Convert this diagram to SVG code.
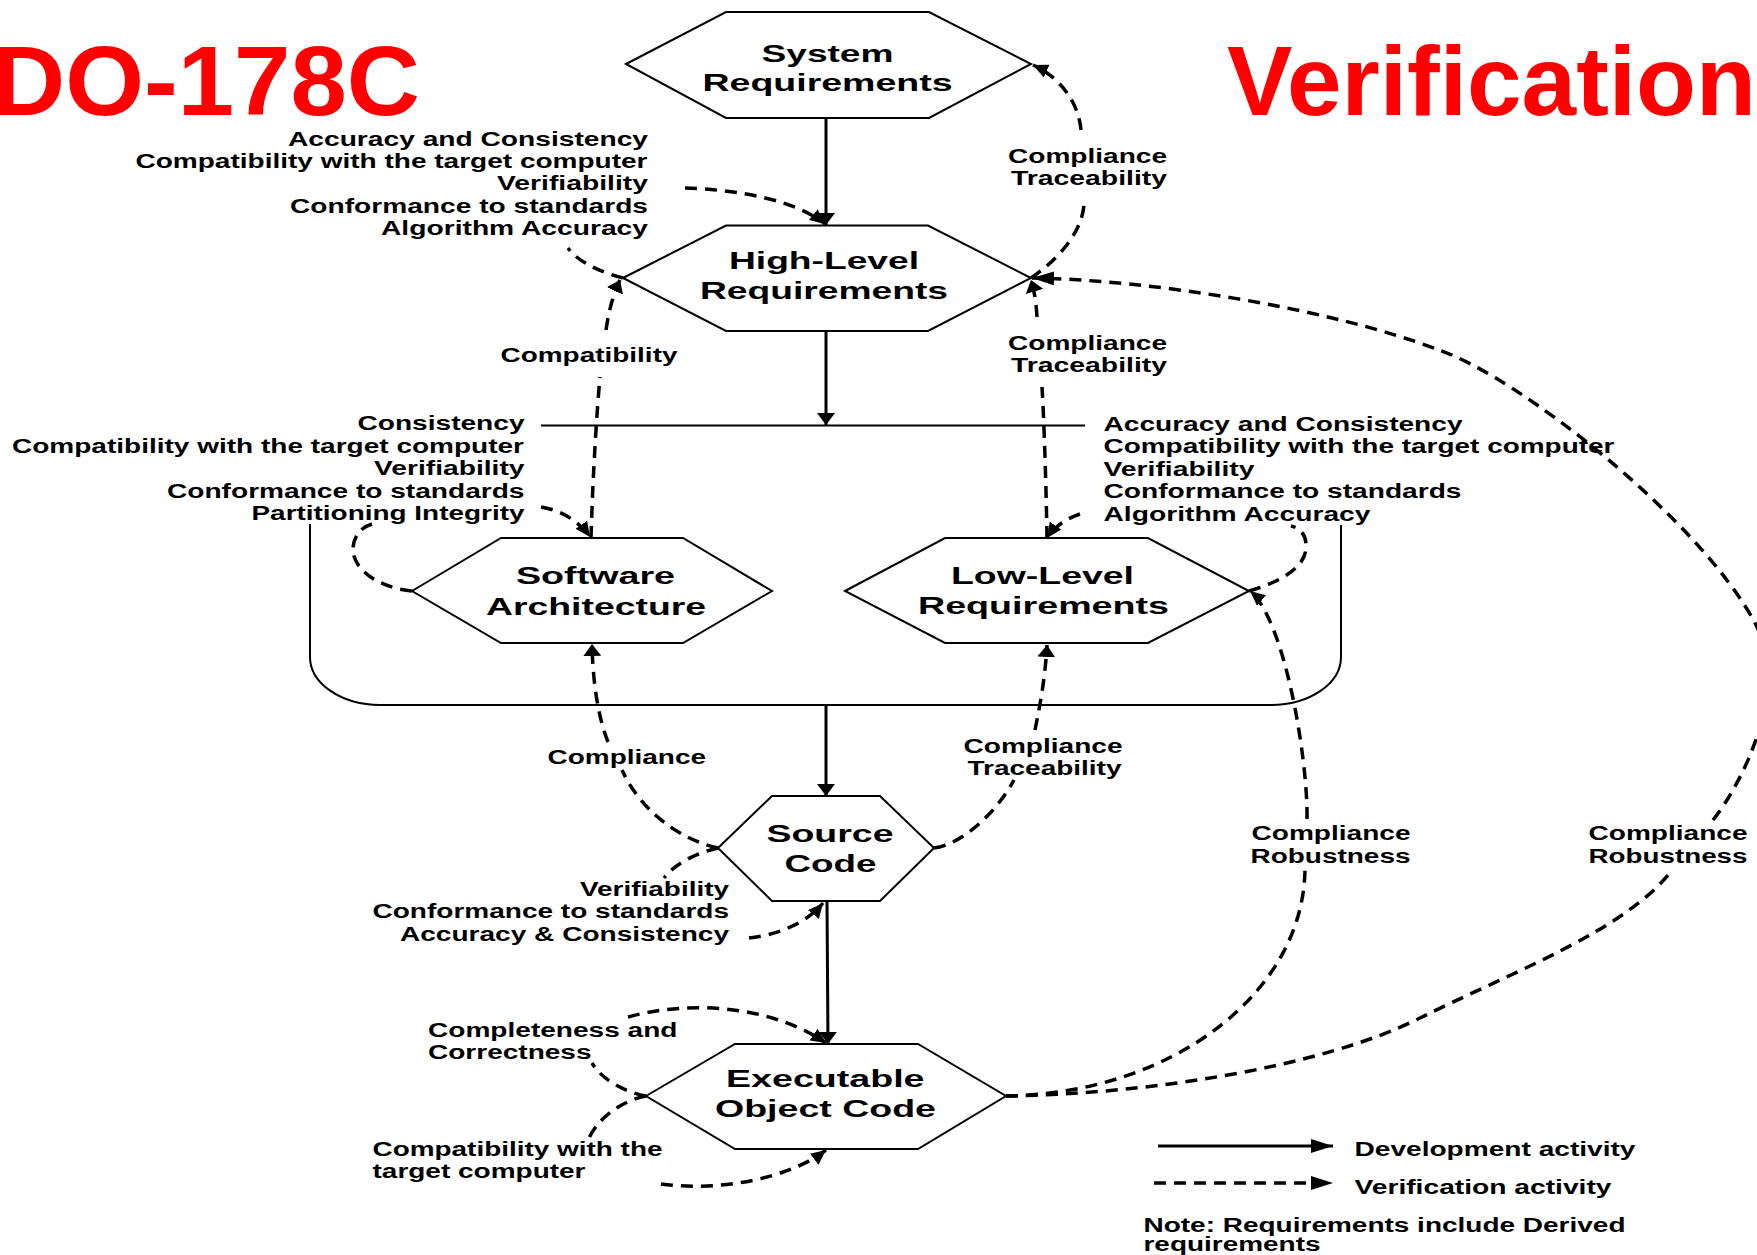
<svg xmlns="http://www.w3.org/2000/svg" width="1757" height="1255" viewBox="0 0 1757 1255">
<style>
text{font-family:"Liberation Sans",Arial,sans-serif;font-weight:bold;fill:#000}
.b{font-size:19.5px}
.n{font-size:23px}
.title{font-size:99px;fill:#ff0000}
.hex{fill:#fff;stroke:#000;stroke-width:2}
.dev{fill:none;stroke:#000;stroke-width:3}
.bar{fill:none;stroke:#000;stroke-width:2}
.ver{fill:none;stroke:#000;stroke-width:3.5;stroke-dasharray:12 8}
</style>
<defs>
<marker id="ahV" markerUnits="userSpaceOnUse" viewBox="0 0 12 18" markerWidth="12" markerHeight="18" refX="12" refY="9" orient="auto"><path d="M0,0 L12,9 L0,18 z" fill="#000"/></marker>
<marker id="ah" markerUnits="userSpaceOnUse" viewBox="0 0 15 14" markerWidth="15" markerHeight="14" refX="15" refY="7" orient="auto"><path d="M0,0 L15,7 L0,14 z" fill="#000"/></marker>
<marker id="ahH" markerUnits="userSpaceOnUse" viewBox="0 0 22 14" markerWidth="22" markerHeight="14" refX="22" refY="7" orient="auto"><path d="M0,0 L22,7 L0,14 z" fill="#000"/></marker>
</defs>
<rect width="1757" height="1255" fill="#fff"/>

<g id="title">
<text class="title" x="-8" y="115" textLength="428" lengthAdjust="spacingAndGlyphs">DO-178C</text>
<text class="title" x="1227" y="115" textLength="529" lengthAdjust="spacingAndGlyphs">Verification</text>
</g>

<g id="system-requirements">
<polygon class="hex" points="626,64 726,12 929,12 1031,64 929,118 726,118"/>
<text class="n" x="761.5" y="61.5" textLength="132" lengthAdjust="spacingAndGlyphs">System</text>
<text class="n" x="702.5" y="90.5" textLength="250" lengthAdjust="spacingAndGlyphs">Requirements</text>
</g>
<g id="high-level-requirements">
<polygon class="hex" points="623,278 726,225.5 928,225.5 1031,278 928,331 726,331"/>
<text class="n" x="729" y="268.8" textLength="190" lengthAdjust="spacingAndGlyphs">High-Level</text>
<text class="n" x="700" y="298.8" textLength="248" lengthAdjust="spacingAndGlyphs">Requirements</text>
</g>
<g id="software-architecture">
<polygon class="hex" points="412,591 501,538 683,538 772,591 683,643 501,643"/>
<text class="n" x="516" y="584.3" textLength="159" lengthAdjust="spacingAndGlyphs">Software</text>
<text class="n" x="486" y="614.5" textLength="220" lengthAdjust="spacingAndGlyphs">Architecture</text>
</g>
<g id="low-level-requirements">
<polygon class="hex" points="845,591 945,538 1148,538 1249,591 1148,643 945,643"/>
<text class="n" x="951" y="584.3" textLength="183" lengthAdjust="spacingAndGlyphs">Low-Level</text>
<text class="n" x="918" y="614.3" textLength="251" lengthAdjust="spacingAndGlyphs">Requirements</text>
</g>
<g id="source-code">
<polygon class="hex" points="718,848 772,796 880,796 934,848 880,901 772,901"/>
<text class="n" x="766.5" y="842.3" textLength="127" lengthAdjust="spacingAndGlyphs">Source</text>
<text class="n" x="784.5" y="871.7" textLength="92" lengthAdjust="spacingAndGlyphs">Code</text>
</g>
<g id="executable-object-code">
<polygon class="hex" points="646,1096 735,1044 918,1044 1006,1096 918,1149 735,1149"/>
<text class="n" x="726" y="1086.7" textLength="198.5" lengthAdjust="spacingAndGlyphs">Executable</text>
<text class="n" x="715" y="1116.7" textLength="221" lengthAdjust="spacingAndGlyphs">Object Code</text>
</g>

<g id="connectors">
<path class="dev" d="M826,118 L826,225" marker-end="url(#ahV)"/>
<path class="dev" d="M826,331 L826,425" marker-end="url(#ahV)"/>
<path class="bar" d="M541,425.5 H1085"/>
<path class="bar" d="M310,524 V657 A70,48 0 0 0 380,705 H1271 A70,48 0 0 0 1341,657 V525"/>
<path class="dev" d="M826,705 L826,796" marker-end="url(#ahV)"/>
<path class="dev" d="M827,901 L828,1044" marker-end="url(#ahV)"/>

<path class="ver" d="M1031,278 C1055,262 1084,232 1084,202 M1081,130 C1079,105 1062,78 1033,65" marker-end="url(#ah)"/>
<path class="ver" d="M1047,538 C1046,480 1044,420 1042,387 M1037,317 C1036,300 1034,290 1031,280" marker-end="url(#ahV)"/>
<path class="ver" d="M591,538 C593,470 597,410 600,377 M606,330 C609,310 613,295 620,280" marker-end="url(#ahV)"/>
<path class="ver" d="M623,278 C600,272 578,262 568,248 M685,188 C740,190 795,200 825,224" marker-end="url(#ah)"/>
<path class="ver" d="M412,591 C380,588 352,570 353,548 C354,535 362,527 372,524 M541,507 C560,510 578,520 590,537" marker-end="url(#ah)"/>
<path class="ver" d="M1249,591 C1280,582 1305,568 1306,548 C1307,535 1300,528 1291,526 M1080,514 C1068,518 1056,525 1047,538" marker-end="url(#ah)"/>
<path class="ver" d="M718,848 C680,840 640,810 622,770 M608,742 C600,722 593,690 592,644" marker-end="url(#ahV)"/>
<path class="ver" d="M718,848 C700,852 676,862 664,878 M749,938 C775,935 805,925 823,903" marker-end="url(#ah)"/>
<path class="ver" d="M934,848 C960,845 995,815 1014,780 M1035,730 C1040,705 1045,680 1047,645" marker-end="url(#ahV)"/>
<path class="ver" d="M646,1096 C625,1092 602,1080 592,1063 M628,1017 C690,1000 770,1005 826,1043" marker-end="url(#ah)"/>
<path class="ver" d="M646,1096 C625,1100 600,1115 589,1138 M661,1184 C720,1192 790,1178 826,1150" marker-end="url(#ah)"/>
<path class="ver" d="M1006,1096 C1171,1094 1305,993 1305,867 M1307,819 C1308,760 1285,620 1250,591" marker-end="url(#ah)"/>
<path class="ver" d="M1006,1096 C1146,1094 1320,1068 1420,1018 C1510,973 1627,930 1672,870 M1713,820 C1743,782 1790,689 1755,623 C1700,520 1520,378 1439,350 C1329,308 1151,280 1032,278" marker-end="url(#ahH)"/>
</g>

<g id="labels" class="b">
<text class="b" x="288" y="145.5" textLength="360" lengthAdjust="spacingAndGlyphs">Accuracy and Consistency</text>
<text class="b" x="135.5" y="167.8" textLength="512" lengthAdjust="spacingAndGlyphs">Compatibility with the target computer</text>
<text class="b" x="497" y="190" textLength="151" lengthAdjust="spacingAndGlyphs">Verifiability</text>
<text class="b" x="290" y="212.5" textLength="358" lengthAdjust="spacingAndGlyphs">Conformance to standards</text>
<text class="b" x="381" y="234.8" textLength="267" lengthAdjust="spacingAndGlyphs">Algorithm Accuracy</text>

<text class="b" x="1008" y="163.3" textLength="159" lengthAdjust="spacingAndGlyphs">Compliance</text>
<text class="b" x="1011" y="184.8" textLength="156" lengthAdjust="spacingAndGlyphs">Traceability</text>

<text class="b" x="1008" y="350" textLength="159" lengthAdjust="spacingAndGlyphs">Compliance</text>
<text class="b" x="1011" y="371.8" textLength="156" lengthAdjust="spacingAndGlyphs">Traceability</text>

<text class="b" x="500.5" y="361.7" textLength="177" lengthAdjust="spacingAndGlyphs">Compatibility</text>

<text class="b" x="357.5" y="430" textLength="167" lengthAdjust="spacingAndGlyphs">Consistency</text>
<text class="b" x="12" y="452.5" textLength="512" lengthAdjust="spacingAndGlyphs">Compatibility with the target computer</text>
<text class="b" x="374" y="475" textLength="150.5" lengthAdjust="spacingAndGlyphs">Verifiability</text>
<text class="b" x="167" y="497.5" textLength="357.5" lengthAdjust="spacingAndGlyphs">Conformance to standards</text>
<text class="b" x="251.5" y="520" textLength="273" lengthAdjust="spacingAndGlyphs">Partitioning Integrity</text>

<text class="b" x="1103.5" y="430.5" textLength="359" lengthAdjust="spacingAndGlyphs">Accuracy and Consistency</text>
<text class="b" x="1103.5" y="453" textLength="511" lengthAdjust="spacingAndGlyphs">Compatibility with the target computer</text>
<text class="b" x="1103.5" y="475.5" textLength="151" lengthAdjust="spacingAndGlyphs">Verifiability</text>
<text class="b" x="1103.5" y="498" textLength="358" lengthAdjust="spacingAndGlyphs">Conformance to standards</text>
<text class="b" x="1103.5" y="520.5" textLength="267" lengthAdjust="spacingAndGlyphs">Algorithm Accuracy</text>

<text class="b" x="547.5" y="764" textLength="158.5" lengthAdjust="spacingAndGlyphs">Compliance</text>

<text class="b" x="963.5" y="753" textLength="159" lengthAdjust="spacingAndGlyphs">Compliance</text>
<text class="b" x="967.5" y="775" textLength="154" lengthAdjust="spacingAndGlyphs">Traceability</text>

<text class="b" x="580" y="896" textLength="149" lengthAdjust="spacingAndGlyphs">Verifiability</text>
<text class="b" x="372.5" y="918.3" textLength="356.5" lengthAdjust="spacingAndGlyphs">Conformance to standards</text>
<text class="b" x="400" y="941" textLength="329" lengthAdjust="spacingAndGlyphs">Accuracy &amp; Consistency</text>

<text class="b" x="1251.5" y="840" textLength="159" lengthAdjust="spacingAndGlyphs">Compliance</text>
<text class="b" x="1250.5" y="863" textLength="160" lengthAdjust="spacingAndGlyphs">Robustness</text>

<text class="b" x="1588.5" y="840" textLength="159" lengthAdjust="spacingAndGlyphs">Compliance</text>
<text class="b" x="1588.5" y="863" textLength="159" lengthAdjust="spacingAndGlyphs">Robustness</text>

<text class="b" x="428" y="1037" textLength="249.5" lengthAdjust="spacingAndGlyphs">Completeness and</text>
<text class="b" x="428" y="1059" textLength="163.5" lengthAdjust="spacingAndGlyphs">Correctness</text>

<text class="b" x="372.5" y="1155.5" textLength="290" lengthAdjust="spacingAndGlyphs">Compatibility with the</text>
<text class="b" x="372.5" y="1177.5" textLength="213" lengthAdjust="spacingAndGlyphs">target computer</text>
</g>

<g id="legend">
<path class="dev" d="M1158,1146 L1333,1146" marker-end="url(#ahH)"/>
<path class="ver" d="M1154,1183 L1333,1183" stroke-dasharray="13 8" marker-end="url(#ahH)"/>
<text class="b" x="1354.5" y="1156" textLength="281" lengthAdjust="spacingAndGlyphs">Development activity</text>
<text class="b" x="1354.5" y="1194" textLength="257" lengthAdjust="spacingAndGlyphs">Verification activity</text>
<text class="b" x="1143.5" y="1231.7" textLength="482" lengthAdjust="spacingAndGlyphs">Note: Requirements include Derived</text>
<text class="b" x="1143.5" y="1250.5" textLength="177" lengthAdjust="spacingAndGlyphs">requirements</text>
</g>
</svg>
